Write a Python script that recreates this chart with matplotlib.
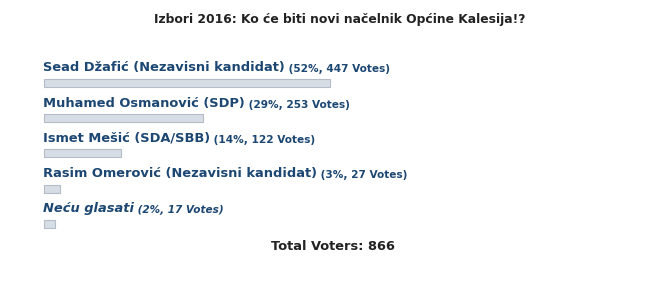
import matplotlib.pyplot as plt
from matplotlib.patches import Rectangle

# poll data
title = "Izbori 2016: Ko će biti novi načelnik Općine Kalesija!?"
candidates = ["Sead Džafić (Nezavisni kandidat)",
              "Muhamed Osmanović (SDP)",
              "Ismet Mešić (SDA/SBB)",
              "Rasim Omerović (Nezavisni kandidat)",
              "Neću glasati"]
percents = [52, 29, 14, 3, 2]
votes = [447, 253, 122, 27, 17]
italic = [False, False, False, False, True]
total_voters = 866

W, H = 668, 282
fig = plt.figure(figsize=(W / 100, H / 100), dpi=100)
ax = fig.add_axes([0, 0, 1, 1])
ax.set_xlim(0, W)
ax.set_ylim(H, 0)
ax.axis("off")

txtcol = "#1c4772"
x0 = 43
pxpct = 5.5  # px per percent
y_label0 = 67
step = 35.2

ax.text(340, 20, title, ha="center", va="center", fontsize=8.95,
        fontweight="bold", color="#222222")

for i, (name, p, v, it) in enumerate(zip(candidates, percents, votes, italic)):
    yl = y_label0 + i * step
    style = "italic" if it else "normal"
    t = ax.text(x0, yl + 4.5, name, ha="left", va="baseline", fontsize=9.4,
                fontweight="bold", color=txtcol, fontstyle=style)
    ax.annotate(" (%d%%, %d Votes)" % (p, v), xy=(1, 0), xycoords=t,
                va="bottom", ha="left", fontsize=7.6, fontweight="bold",
                color=txtcol, fontstyle=style)
    yb = yl + 16
    ax.add_patch(Rectangle((x0 + 0.5, yb - 4), p * pxpct, 8,
                           facecolor="#d7dde5", edgecolor="#b3bcc8", lw=0.8))

ax.text(333, 247, "Total Voters: %d" % total_voters, ha="center", va="center",
        fontsize=9.4, fontweight="bold", color="#222222")

fig.savefig("out.png", dpi=100)
